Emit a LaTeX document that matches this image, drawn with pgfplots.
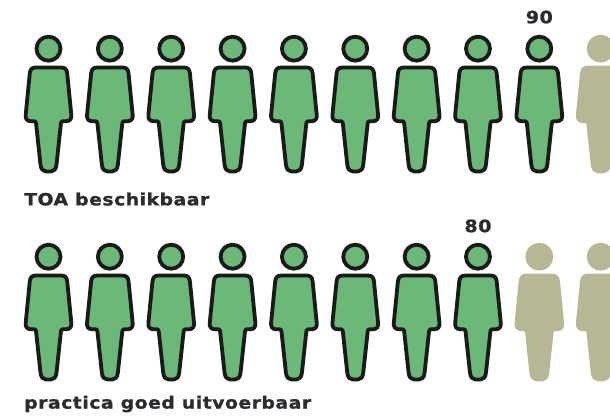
\documentclass[border=0pt]{standalone}
\usepackage{pgfplots}
\pgfplotsset{compat=1.18}
\usepackage{fontspec}
\setmainfont{DejaVu Sans}
\newfontfamily\labelfont[FakeStretch=1.12,LetterSpace=3,FakeBold=1.2]{DejaVu Sans Bold}
\definecolor{pgreen}{HTML}{6BB878}
\definecolor{ptan}{HTML}{B8B795}
\definecolor{pdark}{HTML}{1A1A1A}
\definecolor{ptext}{HTML}{2C2C30}
\newcommand\pL[2]{\pgfpathlineto{\pgfpoint{#1pt}{#2pt}}}
\newcommand\pC[6]{\pgfpathcurveto{\pgfpoint{#1pt}{#2pt}}{\pgfpoint{#3pt}{#4pt}}{\pgfpoint{#5pt}{#6pt}}}
\pgfdeclareplotmark{person}{%
  \pgfinterruptboundingbox
  \pgfsetroundjoin
  \pgfpathcircle{\pgfpointorigin}{12pt}%
  \pgfusepathqfillstroke
  \pgfpathmoveto{\pgfpoint{-12.5pt}{-18.8pt}}%
  \pL{12.5}{-18.8}%
  \pC{16.5}{-18.8}{18.2}{-20.5}{18.7}{-24.5}%
  \pL{22.8}{-66}%
  \pC{23.3}{-70}{21.5}{-72.5}{18}{-72.5}%
  \pL{14.5}{-72.5}%
  \pC{13}{-72.5}{12.5}{-73.5}{12.4}{-75}%
  \pL{8}{-116}%
  \pC{7.5}{-120.5}{5.5}{-122.8}{2.5}{-122.8}%
  \pL{-2.5}{-122.8}%
  \pC{-5.5}{-122.8}{-7.5}{-120.5}{-8}{-116}%
  \pL{-12.4}{-75}%
  \pC{-12.5}{-73.5}{-13}{-72.5}{-14.5}{-72.5}%
  \pL{-18}{-72.5}%
  \pC{-21.5}{-72.5}{-23.3}{-70}{-22.8}{-66}%
  \pL{-18.7}{-24.5}%
  \pC{-18.2}{-20.5}{-16.5}{-18.8}{-12.5}{-18.8}%
  \pgfpathclose
  \pgfusepathqfillstroke
  \endpgfinterruptboundingbox
}
\pgfplotstableread{
x y
0 1
1 1
2 1
3 1
4 1
5 1
6 1
7 1
8 1
0 0
1 0
2 0
3 0
4 0
5 0
6 0
7 0
}\green
\pgfplotstableread{
x y
9 1
8 0
9 0
}\tan
\begin{document}
\begin{tikzpicture}
\begin{axis}[
  width=610pt,height=419pt,scale only axis,
  hide axis,clip=true,
  xmin=-0.7905,xmax=9.152,ymin=-0.780,ymax=1.234]
\path (rel axis cs:0,0) rectangle (rel axis cs:1,1);
\addplot[only marks,mark=person,mark options={line width=3.8pt,draw=pdark,fill=pgreen}] table[x=x,y=y]{\green};
\addplot[only marks,mark=person,mark options={line width=3.8pt,draw=ptan,fill=ptan}] table[x=x,y=y]{\tan};
\node[text=ptext,font=\labelfont\fontsize{17}{17}\selectfont,anchor=center] at (axis cs:8,1.152) {90};
\node[text=ptext,font=\labelfont\fontsize{17}{17}\selectfont,anchor=center] at (axis cs:7,0.148) {80};
\node[text=ptext,font=\labelfont\fontsize{16.8}{17}\selectfont,anchor=west,inner sep=0pt] at (axis cs:-0.399,0.277) {TOA beschikbaar};
\node[text=ptext,font=\labelfont\fontsize{16.8}{17}\selectfont,anchor=west,inner sep=0pt] at (axis cs:-0.399,-0.708) {practica goed uitvoerbaar};
\end{axis}
\end{tikzpicture}
\end{document}
